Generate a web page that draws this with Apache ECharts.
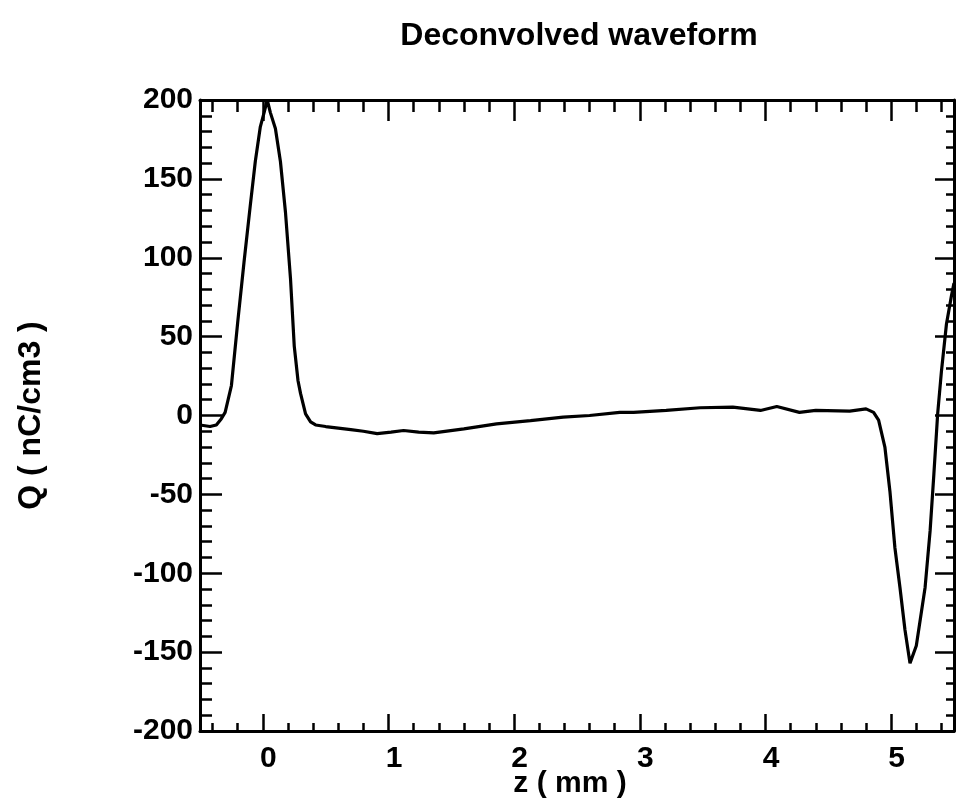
<!DOCTYPE html>
<html>
<head>
<meta charset="utf-8">
<title>Deconvolved waveform</title>
<script src="https://cdn.jsdelivr.net/npm/echarts@6/dist/echarts.min.js"></script>
<style>
  html, body { margin: 0; padding: 0; background: #fff; }
  #chart { width: 956px; height: 803px; }
</style>
</head>
<body>
<div id="chart"></div>
<script>
// Position along the bunch, z (mm)
const zValues = [
  -0.50, -0.42, -0.37, -0.33, -0.30, -0.25, -0.20, -0.15, -0.10, -0.06,
  -0.02, 0.01, 0.035, 0.06, 0.10, 0.14, 0.18, 0.22, 0.25, 0.28,
  0.30, 0.34, 0.38, 0.42, 0.50, 0.70, 0.80, 0.91, 1.02, 1.12,
  1.24, 1.36, 1.60, 1.86, 2.13, 2.39, 2.60, 2.84, 2.95, 3.21,
  3.48, 3.74, 3.96, 4.09, 4.27, 4.40, 4.67, 4.80, 4.86, 4.90,
  4.95, 4.99, 5.03, 5.07, 5.11, 5.15, 5.20, 5.27, 5.31, 5.34,
  5.37, 5.40, 5.44, 5.48, 5.50
];
// Charge density Q (nC/cm3)
const qValues = [
  -6, -7, -6, -2, 2, 19, 59, 97, 133, 161,
  183, 192, 200, 192, 182, 161, 129, 87, 44, 22,
  14, 1, -4, -6, -7, -9, -10, -11.5, -10.5, -9.5,
  -10.5, -11, -8.5, -5.3, -3.2, -1, 0, 2, 2, 3.2,
  4.9, 5.3, 3.2, 5.7, 2, 3.2, 2.8, 4.2, 2, -3,
  -20, -48, -84, -109, -136, -157, -146, -109, -73, -37,
  1, 28, 58, 76, 84
];

// Axis ticks
const xMajorTicks = [0, 1, 2, 3, 4, 5];
const xMinorTicks = [-0.4, -0.2];
for (let k = 0; k < 5; k++) {
  for (let j = 1; j <= 4; j++) xMinorTicks.push(+(k + j * 0.2).toFixed(1));
}
xMinorTicks.push(5.2, 5.4);

const X_MIN = -0.5, X_MAX = 5.5;
const Y_MIN = -200, Y_MAX = 200, Y_STEP = 50;

const FONT = '"Liberation Sans", Arial, Helvetica, sans-serif';
const INK = '#000';

const points = zValues.map((z, i) => [z, qValues[i]]);

function xAxisDef(opts) {
  return Object.assign({
    type: 'value',
    min: X_MIN,
    max: X_MAX,
    gridIndex: 0,
    splitLine: { show: false },
    axisLine: { show: false, onZero: false },
    axisLabel: { show: false },
    axisTick: { show: false }
  }, opts);
}

const chart = echarts.init(document.getElementById('chart'), null, { renderer: 'canvas' });

chart.setOption({
  animation: false,
  backgroundColor: '#fff',
  title: {
    text: 'Deconvolved waveform',
    left: 574,
    top: 15,
    textAlign: 'center',
    textStyle: { fontFamily: FONT, fontWeight: 'bold', fontSize: 32, color: INK }
  },
  grid: { left: 200, right: 2, top: 100, bottom: 72, containLabel: false, outerBoundsMode: 'none' },
  xAxis: [
    xAxisDef({
      position: 'bottom',
      name: 'z ( mm )',
      nameLocation: 'middle',
      nameGap: 38,
      nameMoveOverlap: false,
      nameTextStyle: { fontFamily: FONT, fontWeight: 'bold', fontSize: 30, color: INK, padding: [0, 14, 0, 0] },
      axisLine: { show: true, onZero: false, lineStyle: { color: INK, width: 3 } },
      axisTick: { show: true, inside: true, length: 17, customValues: xMajorTicks, lineStyle: { color: INK, width: 2.5 } },
      axisLabel: {
        show: true, margin: 13, customValues: xMajorTicks,
        fontFamily: FONT, fontWeight: 'bold', fontSize: 30, color: INK,
        padding: [0, 0, 0, 11]
      }
    }),
    xAxisDef({
      position: 'bottom',
      axisTick: { show: true, inside: true, length: 8, customValues: xMinorTicks, lineStyle: { color: INK, width: 2.5 } }
    }),
    xAxisDef({
      position: 'top',
      axisLine: { show: true, onZero: false, lineStyle: { color: INK, width: 3 } },
      axisTick: { show: true, inside: true, length: 21, customValues: xMajorTicks, lineStyle: { color: INK, width: 2.5 } }
    }),
    xAxisDef({
      position: 'top',
      axisTick: { show: true, inside: true, length: 12, customValues: xMinorTicks, lineStyle: { color: INK, width: 2.5 } }
    })
  ],
  yAxis: [
    {
      type: 'value',
      position: 'left',
      min: Y_MIN, max: Y_MAX, interval: Y_STEP,
      name: 'Q ( nC/cm3 )',
      nameLocation: 'middle',
      nameRotate: 90,
      nameGap: 153,
      nameMoveOverlap: false,
      nameTextStyle: { fontFamily: FONT, fontWeight: 'bold', fontSize: 32, color: INK },
      splitLine: { show: false },
      axisLine: { show: true, onZero: false, lineStyle: { color: INK, width: 3 } },
      axisTick: { show: true, inside: true, length: 22, lineStyle: { color: INK, width: 2.5 } },
      minorTick: { show: true, splitNumber: 5, length: 12, lineStyle: { color: INK, width: 2.5 } },
      axisLabel: { margin: 7, fontFamily: FONT, fontWeight: 'bold', fontSize: 30, color: INK }
    },
    {
      type: 'value',
      position: 'right',
      min: Y_MIN, max: Y_MAX, interval: Y_STEP,
      splitLine: { show: false },
      axisLine: { show: true, onZero: false, lineStyle: { color: INK, width: 3 } },
      axisTick: { show: true, inside: true, length: 19, lineStyle: { color: INK, width: 2.5 } },
      minorTick: { show: true, splitNumber: 5, length: 8, lineStyle: { color: INK, width: 2.5 } },
      axisLabel: { show: false }
    }
  ],
  series: [
    {
      type: 'line',
      xAxisIndex: 0,
      yAxisIndex: 0,
      data: points,
      showSymbol: false,
      smooth: false,
      clip: true,
      lineStyle: { color: INK, width: 3.2 }
    }
  ]
});
</script>
</body>
</html>
